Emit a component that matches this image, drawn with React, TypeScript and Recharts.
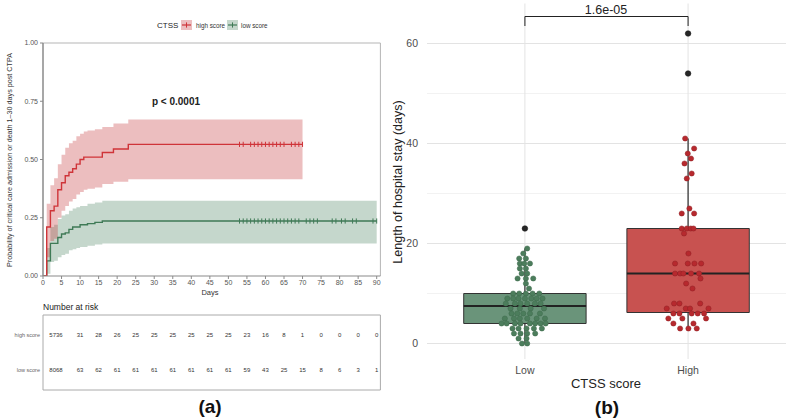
import React from 'react';
import {
  ComposedChart,
  Line,
  Area,
  Scatter,
  XAxis,
  YAxis,
  ReferenceLine,
  ReferenceArea,
  CartesianGrid,
} from 'recharts';

const FONT = '"Liberation Sans", Arial, Helvetica, sans-serif';

// ---------- Panel (a): cumulative incidence ----------
const kmDays = [0, 1, 2, 3, 4, 5, 6, 7, 8, 9, 10, 11, 12, 14, 16, 19, 23, 70, 90];
const highEst = [0, 0.21, 0.28, 0.3, 0.37, 0.4, 0.43, 0.445, 0.46, 0.48, 0.5, 0.51, 0.51, 0.51, 0.53, 0.545, 0.565, 0.565, null];
const highLower = [0, 0.08, 0.15, 0.16, 0.25, 0.28, 0.3, 0.32, 0.33, 0.35, 0.36, 0.37, 0.375, 0.38, 0.395, 0.405, 0.415, 0.415, null];
const highUpper = [0, 0.31, 0.39, 0.42, 0.48, 0.52, 0.55, 0.57, 0.58, 0.6, 0.61, 0.62, 0.625, 0.63, 0.64, 0.655, 0.672, 0.672, null];
const lowEst = [0, 0.065, 0.14, 0.14, 0.165, 0.18, 0.185, 0.2, 0.21, 0.21, 0.22, 0.22, 0.225, 0.23, 0.236, 0.236, 0.236, 0.236, 0.236];
const lowLower = [0, 0.01, 0.06, 0.065, 0.08, 0.09, 0.095, 0.11, 0.115, 0.12, 0.125, 0.125, 0.13, 0.135, 0.14, 0.14, 0.14, 0.14, 0.14];
const lowUpper = [0, 0.12, 0.21, 0.22, 0.245, 0.26, 0.265, 0.28, 0.29, 0.295, 0.3, 0.3, 0.31, 0.315, 0.323, 0.323, 0.323, 0.323, 0.323];

const highCensorDays = [53, 54, 56, 57, 58, 59, 60, 61, 62, 63, 64, 65, 67, 68, 69, 70];
const lowCensorDays = [53, 54, 55, 56, 57, 58, 59, 60, 61, 62, 63, 64, 65, 66, 67, 68, 69, 71, 72, 73, 74, 78, 79, 80.5, 81.5, 83.5, 84.5, 89, 90];

const dayTicks = [0, 5, 10, 15, 20, 25, 30, 35, 40, 45, 50, 55, 60, 65, 70, 75, 80, 85, 90];
const probTicks = [0, 0.25, 0.5, 0.75, 1];

// Number at risk table
const riskRowLabels = ['high score', 'low score'];
const riskDays = [3.5, 10, 15, 20, 25, 30, 35, 40, 45, 50, 55, 60, 65, 70, 75, 80, 85, 90];
const highRisk = ['5736', '31', '28', '26', '25', '25', '25', '25', '25', '25', '23', '16', '8', '1', '0', '0', '0', '0'];
const lowRisk = ['8068', '63', '62', '61', '61', '61', '61', '61', '61', '61', '59', '43', '25', '15', '8', '6', '3', '1'];

// ---------- Panel (b): length of stay ----------
const groups = ['Low', 'High'];
const boxMin = [0, 3];
const boxQ1 = [4, 6.2];
const boxMedian = [7.5, 14];
const boxQ3 = [10, 23];
const boxMax = [19, 41];
const lowOutliers = [23];
const highOutliers = [54, 62];
const stayTicks = [0, 20, 40, 60];
const stayMinor = [10, 30, 50];

const lowStay = [
  19, 18, 17, 17, 16, 16, 16, 15, 15, 14, 14, 13, 13, 13, 12, 11,
  10, 10, 10, 10, 10, 9, 9, 9, 9, 9, 9, 9, 8, 8, 8, 8, 8, 8,
  7, 7, 7, 7, 6, 6, 6, 6, 6, 5, 5, 5, 5, 5, 5,
  4, 4, 4, 4, 4, 4, 4, 4, 3, 3, 3, 3, 3, 2, 2, 2, 2, 1, 1, 0, 0,
];
const lowJitter = [
  0.014, -0.01, -0.035, 0.006, -0.031, -0.004, 0.031, -0.031, 0.006, -0.02, 0.014, -0.045, 0.006, 0.051, 0.006, 0.025,
  -0.072, -0.035, 0.006, 0.047, 0.088, -0.108, -0.072, -0.039, 0, 0.039, 0.072, 0.108, -0.117, -0.061, -0.027, 0.014, 0.061, 0.096,
  -0.088, -0.031, 0.035, 0.117, -0.082, -0.047, -0.01, 0.031, 0.092, -0.123, -0.067, -0.031, 0.014, 0.072, 0.123,
  -0.143, -0.112, -0.061, -0.027, 0.031, 0.063, 0.096, 0.127, -0.076, -0.039, 0.01, 0.055, 0.104, -0.067, -0.027, 0.014, 0.063, -0.039, 0.01, -0.018, 0.014,
];
const highStay = [
  41, 39, 38, 37, 36, 34, 33, 27, 26, 26, 23, 23, 23, 23, 22, 18,
  16, 16, 16, 16, 14, 14, 14, 14, 14, 13, 12, 11,
  8, 8, 8, 7, 7, 7, 7, 6, 6, 6, 6, 6, 5, 5, 5, 4, 4, 3, 3, 3,
];
const highJitter = [
  -0.018, 0.037, -0.002, 0.018, -0.022, 0.022, -0.008, 0.008, -0.039, 0.037, -0.039, -0.008, 0.016, 0.033, -0.025, 0.002,
  -0.08, -0.002, 0.039, 0.08, -0.08, -0.049, -0.029, 0.018, 0.067, 0.076, -0.012, 0.027,
  -0.086, -0.053, 0.074, -0.131, -0.014, 0.012, 0.125, -0.09, -0.053, 0.022, 0.059, 0.098, -0.121, -0.035, 0.11, -0.09, 0.033, -0.049, 0.002, 0.053,
];

// ---------- colours ----------
const RED_LINE = '#CF3439';
const RED_BAND = '#C4393E';
const GREEN_LINE = '#3F7A56';
const GREEN_BAND = '#3F7A56';
const RED_BOX = '#C85250';
const GREEN_BOX = '#6A947A';
const RED_DOT = '#B7292E';
const GREEN_DOT = '#4C7D5C';

const lastValue = (arr: (number | null)[]) => {
  const vals = arr.filter((v) => v != null) as number[];
  return vals[vals.length - 1];
};

const kmData = kmDays.map((day, i) => ({
  day,
  highEst: highEst[i],
  highBand: highEst[i] == null ? null : [highLower[i], highUpper[i]],
  lowEst: lowEst[i],
  lowBand: lowEst[i] == null ? null : [lowLower[i], lowUpper[i]],
}));

const highCensorData = highCensorDays.map((day) => ({ day, mark: lastValue(highEst) }));
const lowCensorData = lowCensorDays.map((day) => ({ day, mark: lastValue(lowEst) }));

const highRiskData = riskDays.map((day, i) => ({ day, row: 1, label: highRisk[i] }));
const lowRiskData = riskDays.map((day, i) => ({ day, row: 2, label: lowRisk[i] }));

const lowDots = lowStay.map((v, i) => ({ x: 1 + lowJitter[i], y: v }));
const highDots = highStay.map((v, i) => ({ x: 2 + highJitter[i], y: v }));
const outlierDots = [
  ...lowOutliers.map((v) => ({ x: 1, y: v })),
  ...highOutliers.map((v) => ({ x: 2, y: v })),
];

const censorShape = (color: string) => (props: any) => {
  const { cx, cy } = props;
  if (cx == null || cy == null) return <g />;
  return <line x1={cx} x2={cx} y1={cy - 2.6} y2={cy + 2.6} stroke={color} strokeWidth={1} />;
};

const riskText = (props: any) => {
  const { cx, cy, payload } = props;
  if (cx == null || cy == null) return <g />;
  return (
    <text x={cx} y={cy} textAnchor="middle" dominantBaseline="central" fontSize={6} fill="#333" fontFamily={FONT}>
      {payload.label}
    </text>
  );
};

const RowLabelTick = (props: any) => {
  const { x, y, payload } = props;
  return (
    <text x={x} y={y} textAnchor="end" dominantBaseline="central" fontSize={5.5} fill="#666" fontFamily={FONT}>
      {riskRowLabels[payload.value - 1]}
    </text>
  );
};

const dotShape = (fill: string, stroke: string, r: number) => (props: any) => {
  const { cx, cy } = props;
  if (cx == null || cy == null) return <g />;
  return <circle cx={cx} cy={cy} r={r} fill={fill} stroke={stroke} strokeWidth={0.5} />;
};

const BOX_HALF = 0.375;

export default function App() {
  return (
    <div style={{ position: 'absolute', left: 0, top: 0, width: 787, height: 419, background: '#fff', fontFamily: FONT, overflow: 'hidden' }}>
      {/* Panel (a) main plot */}
      <div style={{ position: 'absolute', left: 0, top: 0 }}>
        <ComposedChart width={400} height={300} data={kmData} margin={{ top: 43, right: 19.6, left: 0, bottom: 0 }}>
          <XAxis
            dataKey="day"
            type="number"
            domain={[0, 91]}
            ticks={dayTicks}
            allowDataOverflow
            height={24}
            tickSize={3}
            tickMargin={1}
            tick={{ fontSize: 7, fill: '#555', fontFamily: FONT }}
            axisLine={{ stroke: '#8a8a8a', strokeWidth: 1.2 }}
            tickLine={{ stroke: '#8a8a8a' }}
          />
          <YAxis
            type="number"
            domain={[0, 1]}
            ticks={probTicks}
            allowDataOverflow
            width={43}
            tickSize={3}
            tickMargin={2}
            tickFormatter={(v: number) => v.toFixed(2)}
            tick={{ fontSize: 7, fill: '#555', fontFamily: FONT }}
            axisLine={{ stroke: '#8a8a8a', strokeWidth: 1.5 }}
            tickLine={{ stroke: '#8a8a8a' }}
          />
          <ReferenceLine y={1} stroke="#b5b5b5" strokeWidth={1} />
          <ReferenceLine x={91} stroke="#b5b5b5" strokeWidth={1} />
          <Area dataKey="lowBand" type="stepAfter" fill={GREEN_BAND} fillOpacity={0.3} stroke="none" isAnimationActive={false} />
          <Area dataKey="highBand" type="stepAfter" fill={RED_BAND} fillOpacity={0.33} stroke="none" isAnimationActive={false} />
          <Line dataKey="lowEst" type="stepAfter" stroke={GREEN_LINE} strokeWidth={1.4} dot={false} isAnimationActive={false} />
          <Line dataKey="highEst" type="stepAfter" stroke={RED_LINE} strokeWidth={1.4} dot={false} isAnimationActive={false} />
          <Scatter data={lowCensorData} dataKey="mark" shape={censorShape(GREEN_LINE)} isAnimationActive={false} />
          <Scatter data={highCensorData} dataKey="mark" shape={censorShape(RED_LINE)} isAnimationActive={false} />
        </ComposedChart>
      </div>

      {/* Panel (a) risk table */}
      <div style={{ position: 'absolute', left: 0, top: 312 }}>
        <ComposedChart width={400} height={80} margin={{ top: 3, right: 19.6, left: 0, bottom: 2 }}>
          <XAxis dataKey="day" type="number" domain={[0, 91]} hide allowDataOverflow />
          <YAxis
            type="number"
            domain={[0.4, 2.6]}
            reversed
            ticks={[1, 2]}
            width={43}
            tickSize={0}
            tickMargin={3}
            axisLine={false}
            tickLine={false}
            tick={<RowLabelTick />}
          />
          <ReferenceArea x1={0} x2={91} y1={0.4} y2={2.6} fill="none" stroke="#aaaaaa" strokeWidth={1} ifOverflow="visible" />
          <Scatter data={highRiskData} dataKey="row" shape={riskText} isAnimationActive={false} />
          <Scatter data={lowRiskData} dataKey="row" shape={riskText} isAnimationActive={false} />
        </ComposedChart>
      </div>

      {/* Panel (b) */}
      <div style={{ position: 'absolute', left: 380, top: 0 }}>
        <ComposedChart width={407} height={419} margin={{ top: 3.5, right: 1, left: 17, bottom: 30 }}>
          <CartesianGrid horizontalValues={stayMinor} vertical={false} stroke="#f2f2f2" />
          <CartesianGrid horizontalValues={stayTicks} verticalValues={[1, 2]} stroke="#e3e3e3" />
          <XAxis
            dataKey="x"
            type="number"
            domain={[0.4, 2.6]}
            ticks={[1, 2]}
            allowDataOverflow
            height={30}
            tickSize={0}
            tickMargin={8}
            axisLine={false}
            tickLine={false}
            tickFormatter={(v: number) => groups[v - 1]}
            tick={{ fontSize: 10.5, fill: '#4d4d4d', fontFamily: FONT }}
          />
          <YAxis
            type="number"
            domain={[-3.1, 68]}
            ticks={stayTicks}
            allowDataOverflow
            width={30}
            tickSize={0}
            tickMargin={9}
            axisLine={false}
            tickLine={false}
            tick={{ fontSize: 10.5, fill: '#4d4d4d', fontFamily: FONT }}
          />
          {groups.map((g, i) => (
            <ReferenceLine
              key={'wu' + g}
              segment={[{ x: i + 1, y: boxQ3[i] }, { x: i + 1, y: boxMax[i] }]}
              stroke="#2b2b2b"
              strokeWidth={1.2}
            />
          ))}
          {groups.map((g, i) => (
            <ReferenceLine
              key={'wl' + g}
              segment={[{ x: i + 1, y: boxMin[i] }, { x: i + 1, y: boxQ1[i] }]}
              stroke="#2b2b2b"
              strokeWidth={1.2}
            />
          ))}
          {groups.map((g, i) => (
            <ReferenceArea
              key={'box' + g}
              x1={i + 1 - BOX_HALF}
              x2={i + 1 + BOX_HALF}
              y1={boxQ1[i]}
              y2={boxQ3[i]}
              fill={i === 0 ? GREEN_BOX : RED_BOX}
              fillOpacity={1}
              stroke="#333"
              strokeWidth={1}
            />
          ))}
          {groups.map((g, i) => (
            <ReferenceLine
              key={'med' + g}
              segment={[{ x: i + 1 - BOX_HALF, y: boxMedian[i] }, { x: i + 1 + BOX_HALF, y: boxMedian[i] }]}
              stroke="#222"
              strokeWidth={2.2}
            />
          ))}
          <ReferenceLine segment={[{ x: 1, y: 65.4 }, { x: 2, y: 65.4 }]} stroke="#222" strokeWidth={1} />
          <ReferenceLine segment={[{ x: 1, y: 63.5 }, { x: 1, y: 65.4 }]} stroke="#222" strokeWidth={1} />
          <ReferenceLine segment={[{ x: 2, y: 63.5 }, { x: 2, y: 65.4 }]} stroke="#222" strokeWidth={1} />
          <Scatter data={lowDots} dataKey="y" shape={dotShape(GREEN_DOT, '#3f6b4d', 2.6)} isAnimationActive={false} />
          <Scatter data={highDots} dataKey="y" shape={dotShape(RED_DOT, '#8f2024', 2.6)} isAnimationActive={false} />
          <Scatter data={outlierDots} dataKey="y" shape={dotShape('#262626', '#111', 2.8)} isAnimationActive={false} />
        </ComposedChart>
      </div>

      {/* text annotations */}
      <svg width={787} height={419} style={{ position: 'absolute', left: 0, top: 0, pointerEvents: 'none' }} fontFamily={FONT}>
        {/* legend */}
        <text x={157} y={25} fontSize={8} fill="#222" dominantBaseline="central">CTSS</text>
        <rect x={181} y={20} width={11} height={10} fill={RED_BAND} fillOpacity={0.33} />
        <line x1={182} x2={191} y1={25} y2={25} stroke={RED_LINE} strokeWidth={1.2} />
        <line x1={186.5} x2={186.5} y1={22.4} y2={27.6} stroke={RED_LINE} strokeWidth={1} />
        <text x={196} y={25} fontSize={6.3} fill="#333" dominantBaseline="central">high score</text>
        <rect x={227} y={20} width={11} height={10} fill={GREEN_BAND} fillOpacity={0.3} />
        <line x1={228} x2={237} y1={25} y2={25} stroke={GREEN_LINE} strokeWidth={1.2} />
        <line x1={232.5} x2={232.5} y1={22.4} y2={27.6} stroke={GREEN_LINE} strokeWidth={1} />
        <text x={241} y={25} fontSize={6.3} fill="#333" dominantBaseline="central">low score</text>

        <text x={176} y={101} fontSize={10} fontWeight="bold" fill="#222" textAnchor="middle" dominantBaseline="central">p &lt; 0.0001</text>
        <text transform="translate(9,160) rotate(-90)" fontSize={7.2} fill="#333" textAnchor="middle" dominantBaseline="central">
          Probability of critical care admission or death 1–30 days post CTPA
        </text>
        <text x={210} y={292} fontSize={7.5} fill="#333" textAnchor="middle" dominantBaseline="central">Days</text>
        <text x={43} y={307} fontSize={8.5} fill="#222" dominantBaseline="central">Number at risk</text>
        <text x={210} y={406} fontSize={19} fontWeight="bold" fill="#111" textAnchor="middle" dominantBaseline="central">(a)</text>

        <text x={606} y={10} fontSize={12.5} fill="#222" textAnchor="middle" dominantBaseline="central">1.6e-05</text>
        <text transform="translate(398,182) rotate(-90)" fontSize={12.5} fill="#222" textAnchor="middle" dominantBaseline="central">
          Length of hospital stay (days)
        </text>
        <text x={606} y={383} fontSize={13} fill="#222" textAnchor="middle" dominantBaseline="central">CTSS score</text>
        <text x={607} y={407} fontSize={19} fontWeight="bold" fill="#111" textAnchor="middle" dominantBaseline="central">(b)</text>
      </svg>
    </div>
  );
}
